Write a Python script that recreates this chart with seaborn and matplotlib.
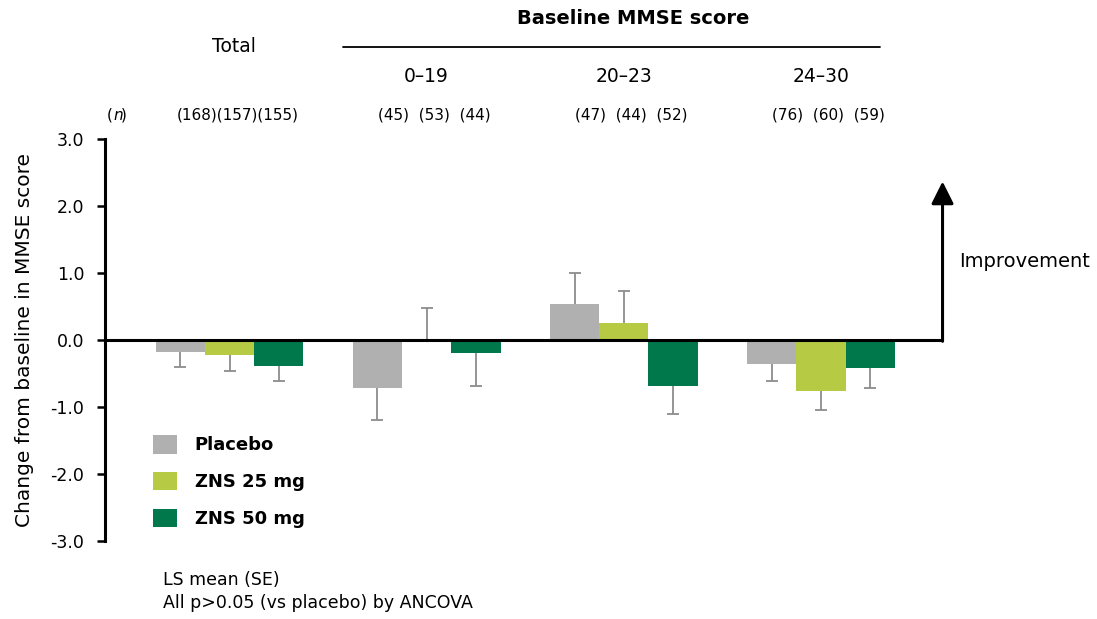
import matplotlib
matplotlib.use("Agg")
import matplotlib.pyplot as plt
from matplotlib.patches import Patch
from matplotlib import transforms
import numpy as np
import pandas as pd
import seaborn as sns

sns.set_style("white")
plt.rcParams["font.family"] = ["DejaVu Sans"]
plt.rcParams["text.color"] = "black"
plt.rcParams["axes.labelcolor"] = "black"
plt.rcParams["ytick.color"] = "black"

# data
groups = ["Total", "0\u201319", "20\u201323", "24\u201330"]
treatments = ["Placebo", "ZNS 25 mg", "ZNS 50 mg"]
placebo_mean = [-0.17, -0.72, 0.54, -0.35]
placebo_se = [0.23, 0.47, 0.46, 0.26]
zns25_mean = [-0.22, 0.01, 0.26, -0.76]
zns25_se = [0.24, 0.47, 0.48, 0.28]
zns50_mean = [-0.38, -0.19, -0.68, -0.41]
zns50_se = [0.23, 0.49, 0.43, 0.30]
n_labels = ["(168)(157)(155)", "(45)  (53)  (44)", "(47)  (44)  (52)", "(76)  (60)  (59)"]
colors = ["#b0b0b1", "#b6ca44", "#00784b"]

df = pd.DataFrame({
    "group": groups * 3,
    "treatment": [t for t in treatments for _ in groups],
    "mean": placebo_mean + zns25_mean + zns50_mean,
    "se": placebo_se + zns25_se + zns50_se,
})

fig = plt.figure(figsize=(10.97, 6.19), dpi=100)
ax = fig.add_axes([0.0957, 0.126, 0.7635, 0.649])

sns.barplot(data=df, x="group", y="mean", hue="treatment", order=groups,
            hue_order=treatments, palette=colors, width=0.75, saturation=1,
            errorbar=None, legend=False, ax=ax, zorder=2, linewidth=0)

# one-sided SE bars, pointing away from zero
for cont, t in zip(ax.containers, treatments):
    sub = df[df.treatment == t].set_index("group").loc[groups]
    xs = np.array([b.get_x() + b.get_width() / 2 for b in cont])
    means = sub["mean"].values
    ends = means + np.where(means >= 0, 1, -1) * sub["se"].values
    ax.vlines(xs, means, ends, color="#8c8c8c", lw=1.3, zorder=1)
    ax.plot(xs, ends, ls="none", marker="_", ms=8, mew=1.3, color="#8c8c8c", zorder=1)

xl, xr = -0.632, 3.617
ax.set_xlim(xl, xr)
ax.set_ylim(-3, 3)
ax.plot([xl, xr], [0, 0], color="black", lw=2.2, zorder=3, solid_capstyle="butt",
        clip_on=False)
ax.annotate("", xy=(xr, 2.37), xytext=(xr, -0.017),
            arrowprops=dict(arrowstyle="-|>", lw=2.2, color="black",
                            mutation_scale=34, shrinkA=0, shrinkB=0),
            annotation_clip=False)
ax.text(xr + 0.082, 1.17, "Improvement", fontsize=14, va="center", ha="left")

ax.set_yticks(np.arange(-3, 3.1, 1))
ax.set_yticklabels([f"{v:.1f}" for v in np.arange(-3, 3.1, 1)], fontsize=12.5)
ax.set_xticks([])
ax.set_xlabel("")
ax.set_ylabel("Change from baseline in MMSE score", fontsize=14.5, labelpad=12)
ax.tick_params(axis="y", direction="out", length=6, width=1.8, left=True, pad=9)
for s in ["top", "right", "bottom"]:
    ax.spines[s].set_visible(False)
ax.spines["left"].set_linewidth(2.2)
ax.spines["left"].set_color("black")

# header texts, x in data units, y in figure units
trans = transforms.blended_transform_factory(ax.transData, fig.transFigure)
ax.text(0.02, 1 - 47 / 619, "Total", transform=trans, ha="center", va="center", fontsize=13.5)
for i in range(1, 4):
    ax.text(i, 1 - 76 / 619, groups[i], transform=trans, ha="center", va="center", fontsize=13.5)
for i, lab in enumerate(n_labels):
    ax.text(i + 0.04, 1 - 115 / 619, lab, transform=trans, ha="center", va="center", fontsize=11)
fig.text(107 / 1097, 1 - 115 / 619, "(", fontsize=11, ha="left", va="center")
fig.text(113 / 1097, 1 - 115 / 619, "n", fontsize=11, ha="left", va="center", style="italic")
fig.text(121 / 1097, 1 - 115 / 619, ")", fontsize=11, ha="left", va="center")
fig.text(633 / 1097, 1 - 18 / 619, "Baseline MMSE score", fontsize=14,
         fontweight="bold", ha="center", va="center")
fig.add_artist(plt.Line2D([343 / 1097, 880 / 1097], [1 - 47 / 619, 1 - 47 / 619],
                          color="black", lw=1.3))

handles = [Patch(facecolor=c, edgecolor="none") for c in colors]
fig.legend(handles, treatments, loc="upper left", bbox_to_anchor=(144 / 1097, 1 - 426 / 619),
           frameon=False, prop={"weight": "bold", "size": 13}, handlelength=1.35,
           handleheight=1.2, handletextpad=0.95, labelspacing=0.97, borderpad=0)

fig.text(163 / 1097, 1 - 580 / 619, "LS mean (SE)", fontsize=12.5, ha="left", va="center")
fig.text(163 / 1097, 1 - 603 / 619, "All p>0.05 (vs placebo) by ANCOVA", fontsize=12.5,
         ha="left", va="center")

fig.savefig("out.png", dpi=100)
